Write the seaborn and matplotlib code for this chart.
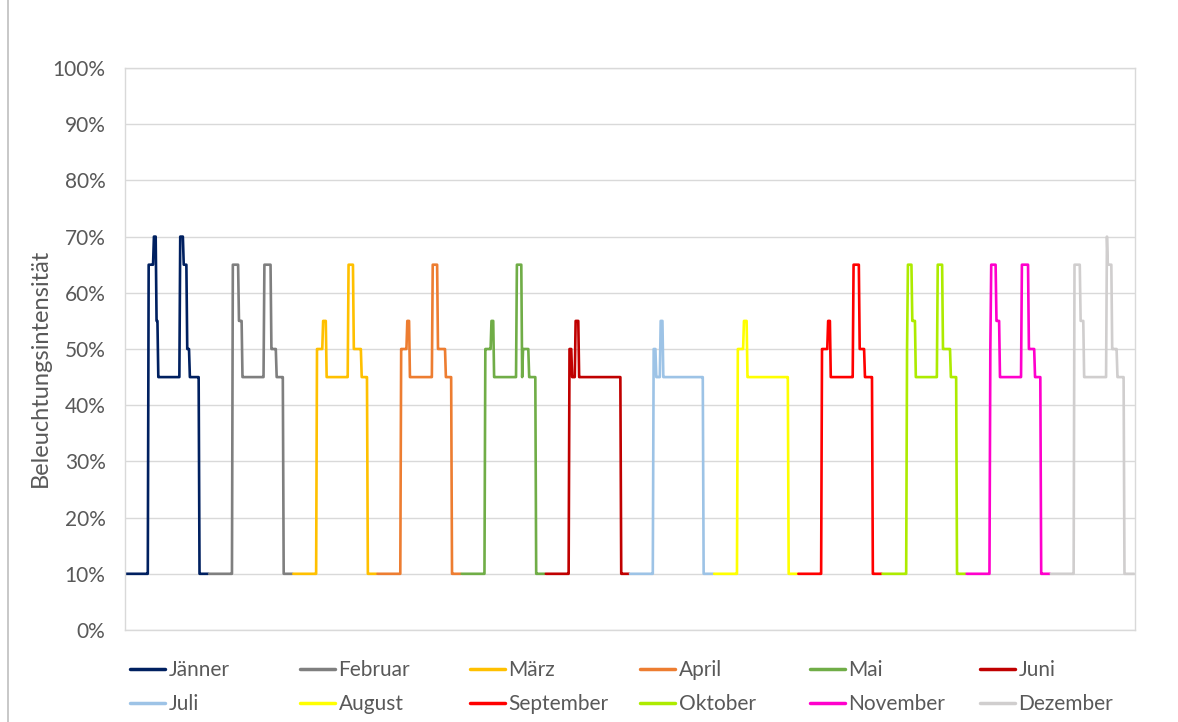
import numpy as np
import pandas as pd
import seaborn as sns
import matplotlib.pyplot as plt
from matplotlib.lines import Line2D

# Monate und Farben
monate = ["Jänner", "Februar", "März", "April", "Mai", "Juni",
          "Juli", "August", "September", "Oktober", "November", "Dezember"]
farben = ["#002060", "#7F7F7F", "#FFC000", "#ED7D31", "#70AD47", "#C00000",
          "#9DC3E6", "#FFFF00", "#FF0000", "#ADEB00", "#FF00CC", "#D0CECE"]

# Tagesprofile: (Uhrzeit ab der der Wert gilt, Beleuchtungsintensität in %)
jaenner = [(0, 10), (6.75, 65), (8.25, 70), (9, 55), (9.5, 45), (15.75, 70),
           (16.75, 65), (17.75, 50), (18.5, 45), (21.25, 10)]
februar = [(0, 10), (6.75, 65), (8.5, 55), (9.5, 45), (15.75, 65),
           (17.75, 50), (19.25, 45), (21.25, 10)]
maerz = [(0, 10), (6.75, 50), (8.5, 55), (9.5, 45), (15.75, 65),
         (17.25, 50), (19.5, 45), (21.25, 10)]
april = [(0, 10), (6.75, 50), (8.5, 55), (9.25, 45), (15.75, 65),
         (17.25, 50), (19.5, 45), (21.25, 10)]
mai = [(0, 10), (6.75, 50), (8.5, 55), (9.25, 45), (15.75, 65),
       (17.25, 45), (17.5, 50), (19.25, 45), (21.25, 10)]
juni = [(0, 10), (6.75, 50), (7.5, 45), (8.5, 55), (9.5, 45), (21.5, 10)]
juli = [(0, 10), (6.75, 50), (7.5, 45), (8.75, 55), (9.5, 45), (21, 10)]
august = [(0, 10), (6.75, 50), (8.5, 55), (9.5, 45), (21.25, 10)]
september = [(0, 10), (6.75, 50), (8.5, 55), (9.25, 45), (15.75, 65),
             (17.5, 50), (19, 45), (21.25, 10)]
oktober = [(0, 10), (7, 50), (7.25, 65), (8.5, 55), (9.5, 45), (15.75, 65),
           (17.25, 50), (19.5, 45), (21.25, 10)]
november = [(0, 10), (6.75, 50), (7, 65), (8.5, 55), (9.5, 45), (15.75, 65),
            (17.75, 50), (19.5, 45), (21.25, 10)]
dezember = [(0, 10), (6.75, 65), (8.5, 55), (9.5, 45), (16, 70), (16.25, 65),
            (17.5, 50), (19, 45), (21, 10)]

profile = [jaenner, februar, maerz, april, mai, juni,
           juli, august, september, oktober, november, dezember]

y_ticks = list(range(0, 101, 10))

# Viertelstundenwerte je Monat, Monate hintereinander auf der x-Achse
viertel = np.arange(96) / 4
rows = []
for m, (name, prof) in enumerate(zip(monate, profile)):
    stunden = np.array([p[0] for p in prof])
    werte = np.array([p[1] for p in prof])
    idx = np.searchsorted(stunden, viertel, side="right") - 1
    for i, v in enumerate(werte[idx]):
        rows.append({"t": m * 96 + i, "wert": v, "Monat": name})
df = pd.DataFrame(rows)

sns.set_theme(style="white")
plt.rcParams["font.family"] = ["Lato", "DejaVu Sans"]
textfarbe = "#595959"

fig = plt.figure(figsize=(11.78, 7.22), dpi=100)
ax = fig.add_axes([125 / 1178, 1 - 630 / 722, 1010 / 1178, 562 / 722])

sns.lineplot(data=df, x="t", y="wert", hue="Monat", hue_order=monate,
             palette=dict(zip(monate, farben)), estimator=None,
             linewidth=1.9, ax=ax, legend=True)

ax.set_xlim(0, 12 * 96)
ax.set_ylim(0, 100)
ax.set_yticks(y_ticks)
ax.set_yticklabels([f"{v}%" for v in y_ticks], color=textfarbe, fontsize=15)
ax.set_xticks([])
ax.set_xlabel("")
ax.set_ylabel("Beleuchtungsintensität", color=textfarbe, fontsize=17)
ax.yaxis.set_label_coords(-0.073, 0.466)
ax.tick_params(axis="y", length=0, pad=14)
ax.yaxis.grid(True, color="#D9D9D9", linewidth=1)
for s in ax.spines.values():
    s.set_color("#D9D9D9")
    s.set_linewidth(1)

# Legende: 2 Zeilen x 6 Spalten mit festen Abständen
handles, labels = ax.get_legend_handles_labels()
ax.get_legend().remove()
lookup = dict(zip(labels, handles))
for i in range(6):
    pair = [monate[i], monate[i + 6]]
    leg = fig.legend([lookup[p] for p in pair], pair, loc="center left",
                     bbox_to_anchor=((130 + 170 * i) / 1178, 1 - 687 / 722),
                     frameon=False, fontsize=15, handlelength=1.7,
                     handletextpad=0.15, borderpad=0, borderaxespad=0,
                     labelspacing=0.66, labelcolor=textfarbe)
    for line in leg.get_lines():
        line.set_linewidth(2.5)

# Rahmenlinie links
fig.add_artist(Line2D([8 / 1178, 8 / 1178], [0, 1], color="#BFBFBF", lw=1.2))

fig.savefig("out.png", dpi=100)
